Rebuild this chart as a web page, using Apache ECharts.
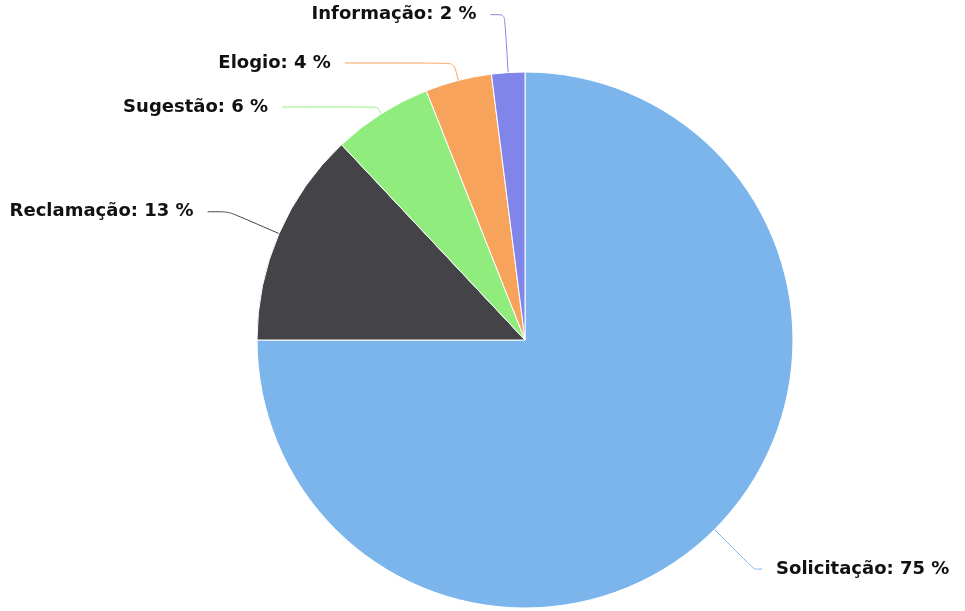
<!DOCTYPE html>
<html>
<head>
<meta charset="utf-8">
<script src="https://cdn.jsdelivr.net/npm/echarts@6/dist/echarts.min.js"></script>
<style>
  html, body { margin: 0; padding: 0; background: #fff; }
  #chart { width: 965px; height: 611px; }
</style>
</head>
<body>
<div id="chart"></div>
<script>
const categories = ['Solicitação', 'Reclamação', 'Sugestão', 'Elogio', 'Informação'];
const values = [75, 13, 6, 4, 2];
const colors = ['#7cb5ec', '#434348', '#90ed7d', '#f7a35c', '#8085e9'];
// connector lengths per slice (style only)
const lineLen = [56, 55, 8, 18, 58];
const lineLen2 = [8, 21, 95, 109, 14];

const chart = echarts.init(document.getElementById('chart'));
const data = categories.map((name, i) => ({
  name: name,
  value: values[i],
  itemStyle: { color: colors[i] },
  labelLine: { length: lineLen[i], length2: lineLen2[i] }
}));

chart.setOption({
  animation: false,
  series: [{
    type: 'pie',
    center: [525, 340],
    radius: 268,
    startAngle: 90,
    clockwise: true,
    avoidLabelOverlap: false,
    itemStyle: { borderColor: '#ffffff', borderWidth: 1 },
    label: {
      show: true,
      position: 'outside',
      formatter: '{b}: {c} %',
      fontFamily: 'DejaVu Sans',
      fontWeight: 'bold',
      fontSize: 18,
      color: '#111',
      distanceToLabelLine: 14
    },
    labelLine: { show: true, smooth: 0.2, lineStyle: { width: 1 } },
    emphasis: { disabled: true },
    data: data
  }]
});
</script>
</body>
</html>
